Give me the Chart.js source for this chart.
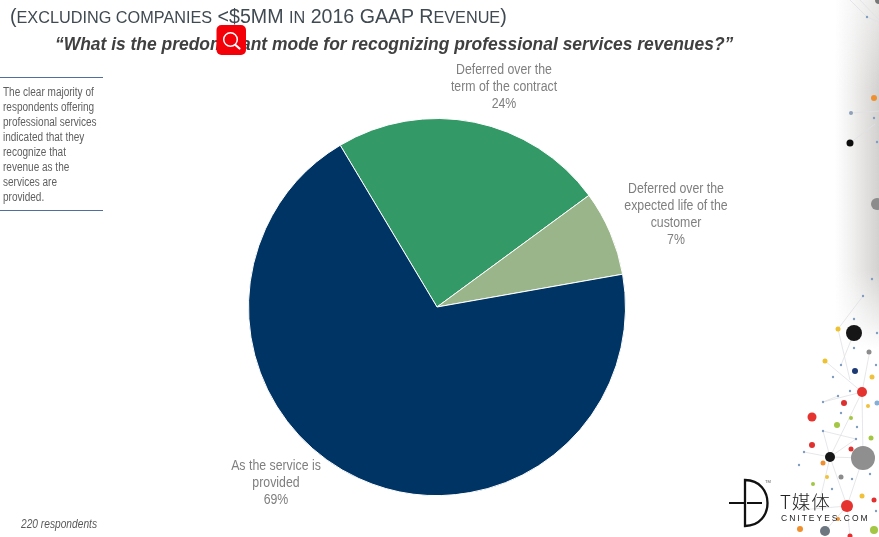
<!DOCTYPE html>
<html><head><meta charset="utf-8">
<script src="https://cdn.jsdelivr.net/npm/chart.js@4"></script>
<style>
html,body{margin:0;padding:0;background:#fff;width:879px;height:537px;overflow:hidden;font-family:"Liberation Sans",Arial,sans-serif}
.abs{position:absolute;white-space:nowrap}
#shade{left:835px;top:0;width:44px;height:537px;background:linear-gradient(to right,rgba(200,198,196,0) 0%,rgba(205,203,201,.3) 40%,rgba(200,198,196,.8) 100%);-webkit-mask-image:linear-gradient(to bottom,rgba(0,0,0,.5) 0,#000 90px,#000 270px,rgba(0,0,0,0) 350px);mask-image:linear-gradient(to bottom,rgba(0,0,0,.5) 0,#000 90px,#000 270px,rgba(0,0,0,0) 350px)}
#deco,#logo,#icon{position:absolute;left:0;top:0}
canvas{position:absolute;left:0;top:0}
.sc{font-size:16.25px}
</style></head><body>
<div class="abs" id="shade"></div>
<svg id="deco" width="879" height="537"></svg>
<div style="position:absolute;left:0;top:0;width:879px;height:537px"><canvas id="c" width="879" height="537"></canvas></div>
<div class="abs" id="heading" style="left:10px;top:4px;font-size:19.6px;line-height:24px;color:#404a52">(<span class="sc">EXCLUDING COMPANIES</span> &lt;$5MM <span class="sc">IN</span> 2016 GAAP R<span class="sc">EVENUE</span>)</div>
<div class="abs" id="question" style="left:55px;top:33px;font-size:17.45px;line-height:22px;font-weight:bold;font-style:italic;color:#404040">“What is the predominant mode for recognizing professional services revenues?”</div>
<div class="abs" style="left:0;top:77px;width:103px;height:132px;border-top:1.5px solid #4f6f9f;border-bottom:1.5px solid #4f6f9f"></div>
<div class="abs" id="side" style="left:3px;top:85px;font-size:12px;line-height:15px;color:#5f5f5f;transform:scaleX(.835);transform-origin:left top">The clear majority of<br>respondents offering<br>professional services<br>indicated that they<br>recognize that<br>revenue as the<br>services are<br>provided.</div>
<div class="abs" id="foot" style="left:21px;top:517px;font-size:12px;line-height:14px;font-style:italic;color:#595959;transform:scaleX(.85);transform-origin:left top">220 respondents</div>
<svg id="icon" width="879" height="537">
<rect x="216.500" y="25" width="29.500" height="30" rx="5" fill="#f40009"/>
<circle cx="230.500" cy="39.500" r="6.800" fill="none" stroke="#fff" stroke-width="1.500"/>
<line x1="235.500" y1="45" x2="239.500" y2="48.500" stroke="#fff" stroke-width="2.200" stroke-linecap="round"/>
</svg>
<svg id="logo" width="879" height="537">
<path d="M745 480 C775 480 775 526 745 526 Z" fill="none" stroke="#111" stroke-width="2.300"/>
<line x1="729" y1="503" x2="744" y2="503" stroke="#111" stroke-width="2"/>
<line x1="747" y1="503" x2="762" y2="503" stroke="#111" stroke-width="2"/>
<text x="765" y="483" font-size="4" fill="#555" font-family="Liberation Sans">TM</text>
<text x="780" y="508.500" font-size="18.500" letter-spacing="1" fill="#222" font-family="Noto Sans CJK SC" font-weight="300">T媒体</text>
<text x="781" y="520.500" font-size="8.500" fill="#222" font-family="Liberation Sans" letter-spacing="2">CNITEYES.COM</text>
</svg>
<script>
const categories = [["Deferred over the","term of the contract"],["Deferred over the","expected life of the","customer"],["As the service is","provided"]];
const seriesValues = [23.5, 7.3, 69.2];
const sliceColors = ["#339966", "#9BB58A", "#003464"];
const labelOffsets = [[67,-237],[239,-118],[-161,159]];

const sliceLabels = {
  id:"sliceLabels",
  afterDatasetsDraw(chart){
    const ctx=chart.ctx, arcs=chart.getDatasetMeta(0).data;
    ctx.save();
    ctx.fillStyle="#7f7f7f";
    ctx.font='14px "Liberation Sans", Arial, sans-serif';
    ctx.textAlign="center"; ctx.textBaseline="middle";
    arcs.forEach((arc,i)=>{
      const lines=categories[i].concat([Math.round(seriesValues[i])+"%"]);
      const x=arc.x+labelOffsets[i][0], y=arc.y+labelOffsets[i][1];
      lines.forEach((t,k)=>{
        ctx.save(); ctx.translate(x,y+k*17.2); ctx.scale(.88,1);
        ctx.fillText(t,0,0); ctx.restore();
      });
    });
    ctx.restore();
  }
};

new Chart(document.getElementById("c"),{
  type:"pie",
  data:{labels:categories.map(l=>l.join(" ")),datasets:[{data:seriesValues,backgroundColor:sliceColors,borderColor:"#ffffff",borderWidth:1}]},
  options:{
    responsive:false,animation:false,rotation:-30.9,
    layout:{padding:{top:118,bottom:41,left:248,right:253}},
    plugins:{legend:{display:false},tooltip:{enabled:false},title:{display:false}}
  },
  plugins:[sliceLabels]
});

const NS="http://www.w3.org/2000/svg", deco=document.getElementById("deco");
function ln(a,b,c,d,col){const e=document.createElementNS(NS,"line");e.setAttribute("x1",a);e.setAttribute("y1",b);e.setAttribute("x2",c);e.setAttribute("y2",d);e.setAttribute("stroke",col||"#dfe1e4");e.setAttribute("stroke-width",".8");deco.appendChild(e);}
function dot(x,y,r,col){const e=document.createElementNS(NS,"circle");e.setAttribute("cx",x);e.setAttribute("cy",y);e.setAttribute("r",r);e.setAttribute("fill",col);deco.appendChild(e);}
[[838,329,863,296],[838,329,850,380],[854,333,841,365],[862,392,825,361],[862,392,830,457],[862,392,823,402],[862,392,870,350],[830,457,804,452],[863,458,830,457],[847,506,863,458],[847,506,830,457],[847,506,800,510],[863,458,862,392],[823,431,856,439],[823,431,830,457],[856,439,830,457],[838,396,823,402],[847,506,850,537],[847,506,825,531],[830,457,820,500],[851,113,879,111],[850,143,875,124],[867,17,850,0],[867,17,879,22],[860,0,879,20]].forEach(l=>ln(...l));
[[854,333,8,"#161616"],[838,329,2.5,"#eec12f"],[869,352,2.5,"#8c8c8c"],[825,361,2.5,"#eec12f"],[855,371,3,"#1d3a72"],[872,377,2.5,"#f0c13a"],[862,392,5,"#e5332f"],[844,403,3,"#dc3030"],[868,406,2,"#f0c13a"],[877,403,2.5,"#86aed6"],[812,417,4.5,"#e5332f"],[851,418,2,"#a3c644"],[837,425,3,"#a3c644"],[871,438,2.5,"#a3c644"],[812,445,3,"#e03030"],[851,449,2.5,"#e03030"],[863,458,12,"#8f8f8f"],[830,457,5,"#161616"],[823,463,2.5,"#ef8f2e"],[827,477,2,"#f0c13a"],[841,477,2.5,"#8c8c8c"],[813,484,2,"#a3c644"],[862,496,2.5,"#f0c13a"],[874,500,2.5,"#e03030"],[847,506,6,"#e5332f"],[874,530,4,"#a3c644"],[800,529,3,"#ef8f2e"],[825,531,5,"#6d7780"],[850,536,2.5,"#e03030"],[838,519,2,"#ef8f2e"],[874,98,3,"#ef9030"],[851,113,2,"#8fa0b8"],[850,143,3.5,"#0d0d0d"],[877,204,6,"#8c8c8c"],[879,0,4,"#777"]].forEach(d=>dot(...d));
[[872,279],[863,296],[854,319],[877,333],[854,348],[841,365],[833,377],[876,365],[850,391],[838,396],[823,402],[841,413],[857,427],[823,431],[856,439],[804,452],[799,465],[870,474],[852,479],[832,489],[876,511],[874,118],[877,142],[867,17]].forEach(p=>dot(p[0],p[1],1.2,"#7f9cc0"));
</script>
</body></html>
